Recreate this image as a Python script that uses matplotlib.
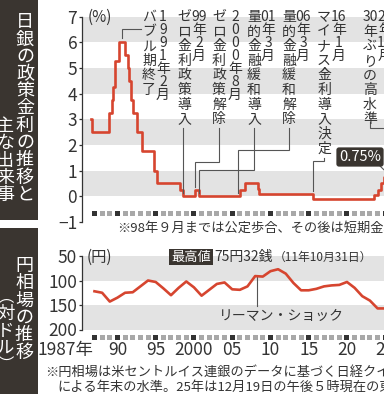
import numpy as np
import matplotlib.pyplot as plt
from matplotlib.patches import Rectangle

plt.rcParams['font.family'] = ['Noto Sans CJK JP', 'DejaVu Sans']

W, H = 384, 400
RED = '#d6452f'
BAND = '#e3e3e3'
DARK = '#3a3530'
INK = '#333333'
LEAD = '#555555'

# 政策金利（変更日, %）
rate_dates = [1987.0, 1987.15, 1989.41, 1989.78, 1989.98, 1990.21, 1990.66, 1991.5,
              1991.87, 1991.99, 1992.25, 1992.57, 1993.09, 1993.72, 1995.28, 1995.69,
              1998.7, 1999.1, 2000.62, 2001.2, 2006.54, 2007.14, 2008.83, 2008.97,
              2016.08, 2024.0, 2024.5, 2025.0, 2025.3]
rate_vals = [3.0, 2.5, 3.25, 3.75, 4.25, 5.25, 6.0, 5.5,
             5.0, 4.5, 3.75, 3.25, 2.5, 1.75, 1.0, 0.5,
             0.25, 0.0, 0.25, 0.0, 0.25, 0.5, 0.3, 0.1,
             -0.1, 0.05, 0.25, 0.5, 0.75]

# 円相場（年末, 円/ドル）
fx_years = list(range(1987, 2026))
fx_vals = [122, 125, 143, 135, 125, 124, 112, 100, 103, 116,
           130, 115, 102, 114, 131, 119, 107, 104, 118, 119,
           112, 91, 92, 81, 77, 86, 105, 120, 120, 117,
           112, 110, 109, 103, 115, 132, 141, 157, 157]

label_years = [1987, 1990, 1995, 2000, 2005, 2010, 2015, 2020, 2025]
year_labels = ['1987年', '90', '95', '2000', '05', '10', '15', '20', '25']
lehman = 2008.7

fig = plt.figure(figsize=(W / 100, H / 100), dpi=100, facecolor='white')


def box(l, t, r, b):
    return [l / W, 1 - b / H, (r - l) / W, (b - t) / H]


ax1 = fig.add_axes(box(82, 16.5, 384, 222))
ax2 = fig.add_axes(box(82, 256, 384, 329.5))
ov = fig.add_axes([0, 0, 1, 1], zorder=5)
ov.set_xlim(0, W)
ov.set_ylim(H, 0)
ov.axis('off')

for a in (ax1, ax2):
    a.set_xlim(1985.87, 2025.34)
    for s in ['top', 'right', 'bottom']:
        a.spines[s].set_visible(False)
    a.spines['left'].set_color(INK)
    a.spines['left'].set_linewidth(0.9)
    a.tick_params(axis='y', direction='out', length=2.5, width=0.9, color=INK,
                  labelsize=12.5, labelcolor=INK, pad=1)
    a.set_xticks([])
    a.set_facecolor('none')

# 上段：政策金利
ax1.set_ylim(-1, 7)
ax1.set_yticks(range(-1, 8))
for lo in [0, 2, 4, 6]:
    ax1.axhspan(lo, lo + 1, color=BAND, lw=0, zorder=0)
ax1.step(rate_dates + [2026.5], rate_vals + [rate_vals[-1]], where='post',
         color=RED, lw=1.9, zorder=3, clip_on=False)

# 下段：円相場
ax2.set_ylim(200, 50)
ax2.set_yticks([50, 100, 150, 200])
for lo in [50, 150]:
    ax2.axhspan(lo, lo + 50, color=BAND, lw=0, zorder=0)
fx_x = np.array(fx_years) + 0.5
ax2.plot(fx_x, fx_vals, color=RED, lw=1.9, zorder=3, solid_joinstyle='round')

# 年の目盛り（小さな四角）
yrs = np.array(fx_years)
sq_col = [INK if y in label_years else '#a8a8a8' for y in yrs]
ax1.scatter(yrs + 0.5, np.full(len(yrs), -0.65), marker='s', s=13, c=sq_col,
            lw=0, clip_on=False)
ax2.scatter(yrs + 0.5, np.full(len(yrs), 215.5), marker='s', s=13, c=sq_col,
            lw=0, clip_on=False)
for y, lab in zip(label_years, year_labels):
    if y == 1987:
        ax2.text(y + 0.4, 242, lab, ha='right', va='center', fontsize=12.5,
                 color=INK, clip_on=False)
    else:
        ax2.text(y + 0.5, 242, lab, ha='center', va='center', fontsize=12.5,
                 color=INK, clip_on=False)

fig.canvas.draw()
rend = fig.canvas.get_renderer()


def d2p(ax, x, y):
    px, py = ax.transData.transform((x, y))
    return px, H - py


def vtext(x, y0, units, step, size, color=INK):
    for i, u in enumerate(units):
        ov.text(x, y0 + i * step, u, ha='center', va='center', fontsize=size,
                color=color)


def lead(pts):
    xs, ys = zip(*pts)
    ov.plot(xs, ys, color=LEAD, lw=0.8, solid_joinstyle='miter')


# 見出し
ov.add_patch(Rectangle((0, 0), 38, 220, color=DARK, lw=0))
ov.add_patch(Rectangle((0, 228), 38, 166, color=DARK, lw=0))
vtext(25, 22, list('日銀の政策金利の推移と'), 17.3, 13, 'white')
vtext(5, 126, list('主な出来事'), 17.3, 13, 'white')
vtext(24, 266, list('円相場の推移'), 17.3, 13, 'white')
for ch, yy, fs in zip(['︵', '対', 'ド', 'ル', '︶'], [297, 314, 331, 348, 364],
                      [11, 12.5, 12.5, 12.5, 11]):
    ov.text(6, yy, ch, ha='center', va='center', fontsize=fs, color='white')

ov.text(88, 17, '(%)', ha='left', va='center', fontsize=11, color=INK)
ov.text(87, 257, '(円)', ha='left', va='center', fontsize=11, color=INK)

# 出来事の注記
DS, TS, FS = 14.6, 13.0, 10
events = [
    # 説明列x, 日付列x, 説明, 日付
    (149, 163, list('バブル期終了'), ['1', '9', '9', '1', '年', '2', '月']),
    (184, 199, list('ゼロ金利政策導入'), ['99', '年', '2', '月']),
    (219, 235, list('ゼロ金利政策解除'), ['2', '0', '0', '0', '年', '8', '月']),
    (254, 268, list('量的金融緩和導入'), ['01', '年', '3', '月']),
    (289, 303, list('量的金融緩和解除'), ['06', '年', '3', '月']),
    (324, 339, list('マイナス金利導入決定'), ['16', '年', '1', '月']),
    (370, 385, ['30'] + list('年ぶりの高水準'), ['25', '年', '12', '月']),
]
for dx, tx, desc, date in events:
    vtext(dx, 17, desc, DS, FS)
    vtext(tx, 17, date, TS, FS)

p = d2p(ax1, 1991.1, 6.0)
lead([(141, 29), (p[0], 29), (p[0], p[1] - 4)])
p = d2p(ax1, 1999.1, 0.0)
lead([(p[0], 128), (p[0], p[1] - 3)])
p = d2p(ax1, 2000.62, 0.25)
lead([(219, 128), (219, 162), (p[0], 162), (p[0], p[1] - 3)])
p = d2p(ax1, 2001.2, 0.0)
lead([(254, 128), (254, 170), (p[0], 170), (p[0], p[1] - 3)])
p = d2p(ax1, 2006.2, 0.0)
lead([(289, 128), (289, 150), (p[0], 150), (p[0], p[1] - 3)])
p = d2p(ax1, 2016.08, 0.1)
lead([(324, 158), (324, 161), (p[0], 161), (p[0], p[1] - 3)])
lead([(370, 122), (370, 128), (390, 128)])

ov.text(360, 157, '0.75%', ha='center', va='center', fontsize=10.5, color='white',
        bbox=dict(boxstyle='round,pad=0.18', fc=DARK, ec='none'))
p = d2p(ax1, 2025.9, 0.75)
lead([(379, 165), (p[0], p[1] - 3)])

ov.text(117, 228, '※98年９月までは公定歩合、その後は短期金利', ha='left', va='center',
        fontsize=9.5, color=INK)

# 円相場の注記
ov.text(191, 257, '最高値', ha='center', va='center', fontsize=9.5, color='white',
        bbox=dict(boxstyle='square,pad=0.15', fc=DARK, ec='none'))
t75 = ov.text(214, 257, '75円32銭', ha='left', va='center', fontsize=10, color=INK)
bb = t75.get_window_extent(rend)
ov.text(bb.x1 + 1, 257, '（11年10月31日）', ha='left', va='center', fontsize=8.5,
        color=INK)

ly = np.interp(lehman, fx_x, fx_vals)
ax2.plot([lehman, lehman], [ly, 152], color=LEAD, lw=0.8, zorder=2)
ax2.text(2011.9, 172, 'リーマン・ショック', ha='center', va='center', fontsize=10,
         color=INK)

ov.text(45, 372, '※円相場は米セントルイス連銀のデータに基づく日経クイック', ha='left',
        va='center', fontsize=9.5, color=INK)
ov.text(57, 387, 'による年末の水準。25年は12月19日の午後５時現在の東京市場', ha='left',
        va='center', fontsize=9.5, color=INK)

fig.savefig('out.png', dpi=100, facecolor='white')
